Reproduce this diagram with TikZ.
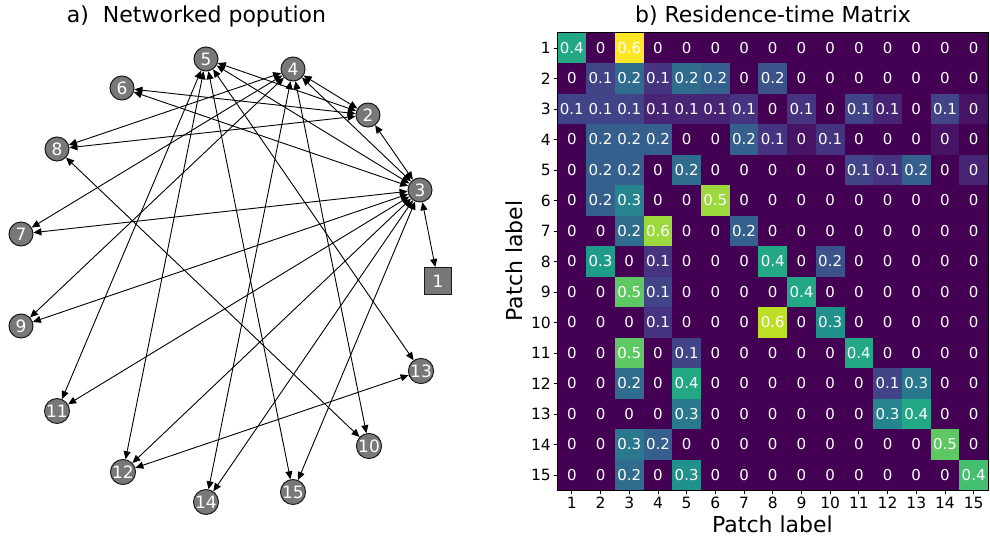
\documentclass[tikz,border=0pt]{standalone}
\usepackage{fontspec}
\setmainfont{DejaVu Sans}
\usetikzlibrary{arrows.meta}
\definecolor{v00}{HTML}{440154}
\definecolor{v05}{HTML}{471365}
\definecolor{v10}{HTML}{482475}
\definecolor{v15}{HTML}{463480}
\definecolor{v20}{HTML}{414487}
\definecolor{v25}{HTML}{3B528B}
\definecolor{v30}{HTML}{355F8D}
\definecolor{v35}{HTML}{2F6C8E}
\definecolor{v40}{HTML}{2A788E}
\definecolor{v45}{HTML}{25848E}
\definecolor{v50}{HTML}{21918C}
\definecolor{v55}{HTML}{1E9C89}
\definecolor{v60}{HTML}{22A884}
\definecolor{v65}{HTML}{2FB47C}
\definecolor{v70}{HTML}{44BF70}
\definecolor{v75}{HTML}{5EC962}
\definecolor{v80}{HTML}{7AD151}
\definecolor{v85}{HTML}{9BD93C}
\definecolor{v90}{HTML}{BDDF26}
\definecolor{v100}{HTML}{FDE725}
\definecolor{nodegray}{HTML}{787878}
\definecolor{nodeedge}{HTML}{1A1A1A}
\newcommand{\heatrow}[2]{%
  \foreach \t/\l [count=\c] in {#2}{%
    \fill[fill=v\l] ({557.5+28.7*(\c-1)},{32.7+30.5*(#1-1)}) rectangle ({557.5+28.7*\c},{32.7+30.5*#1});
    \node[cellnum] (m-#1-\c) at ({557.5+28.7*(\c-0.5)},{32.7+30.5*(#1-0.5)}) {\t};
  }}
\begin{document}
\begin{tikzpicture}[x=1pt,y=-1pt,
  pnode/.style={circle,fill=nodegray,draw=nodeedge,line width=1pt,minimum size=24pt,inner sep=0pt,text=white,font=\fontsize{17}{17}\selectfont},
  snode/.style={rectangle,fill=nodegray,draw=nodeedge,line width=1pt,minimum size=27pt,inner sep=0pt,text=white,font=\fontsize{17}{17}\selectfont},
  link/.style={{Triangle[length=8pt,width=7pt]}-{Triangle[length=8pt,width=7pt]},line width=0.9pt,black},
  cellnum/.style={text=white,font=\fontsize{15}{15}\selectfont,inner sep=0pt},
  ticklab/.style={font=\fontsize{15.5}{15.5}\selectfont,inner sep=0pt},
  titlelab/.style={font=\fontsize{22}{22}\selectfont,inner sep=0pt},
  tickmark/.style={line width=0.8pt,black}]
\useasboundingbox (0,0) rectangle (990,540);

% ---------- a) network ----------
\node[titlelab] (ta) at (196.5,16) {a)~ Networked popution};
\node[snode] (n1) at (438,281) {1};
\node[pnode] (n2) at (368,115) {2};
\node[pnode] (n3) at (420,190) {3};
\node[pnode] (n4) at (293,69) {4};
\node[pnode] (n5) at (206,59) {5};
\node[pnode] (n6) at (122,88) {6};
\node[pnode] (n7) at (21,234) {7};
\node[pnode] (n8) at (57,149) {8};
\node[pnode] (n9) at (21,326) {9};
\node[pnode] (n10) at (369,446) {10};
\node[pnode] (n11) at (57,411) {11};
\node[pnode] (n12) at (123,472) {12};
\node[pnode] (n13) at (421,371) {13};
\node[pnode] (n14) at (206,502) {14};
\node[pnode] (n15) at (293,492) {15};
\foreach \a/\b in {1/3,2/3,2/4,2/5,2/6,2/8,3/4,3/5,3/6,3/7,3/9,3/11,3/12,3/14,3/15,
                   4/7,4/8,4/9,4/10,4/14,5/11,5/12,5/13,5/15,8/10,12/13}
  \draw[link] (n\a) -- (n\b);

% ---------- b) matrix ----------
\node[titlelab] (tb) at (773,16) {b) Residence-time Matrix};
\heatrow{1}{0.4/60,0/00,0.6/100,0/00,0/00,0/00,0/00,0/00,0/00,0/00,0/00,0/00,0/00,0/00,0/00}
\heatrow{2}{0/00,0.1/20,0.2/35,0.1/15,0.2/35,0.2/30,0/00,0.2/25,0/00,0/00,0/00,0/00,0/00,0/00,0/00}
\heatrow{3}{0.1/20,0.1/20,0.1/20,0.1/10,0.1/10,0.1/10,0.1/15,0/00,0.1/15,0/00,0.1/20,0.1/10,0/00,0.1/20,0/05}
\heatrow{4}{0/00,0.2/30,0.2/30,0.2/30,0/00,0/00,0.2/30,0.1/15,0/05,0.1/15,0/00,0/00,0/00,0/05,0/00}
\heatrow{5}{0/00,0.2/30,0.2/30,0/00,0.2/35,0/00,0/00,0/00,0/00,0/00,0.1/20,0.1/15,0.2/30,0/00,0/10}
\heatrow{6}{0/00,0.2/30,0.3/45,0/00,0/00,0.5/85,0/00,0/00,0/00,0/00,0/00,0/00,0/00,0/00,0/00}
\heatrow{7}{0/00,0/00,0.2/35,0.6/85,0/00,0/00,0.2/30,0/00,0/00,0/00,0/00,0/00,0/00,0/00,0/00}
\heatrow{8}{0/00,0.3/55,0/00,0.1/15,0/00,0/00,0/00,0.4/60,0/00,0.2/25,0/00,0/00,0/00,0/00,0/00}
\heatrow{9}{0/00,0/00,0.5/75,0.1/20,0/00,0/00,0/00,0/00,0.4/60,0/00,0/00,0/00,0/00,0/00,0/00}
\heatrow{10}{0/00,0/00,0/00,0.1/15,0/00,0/00,0/00,0.6/90,0/00,0.3/50,0/00,0/00,0/00,0/00,0/00}
\heatrow{11}{0/00,0/00,0.5/75,0/00,0.1/20,0/00,0/00,0/00,0/00,0/00,0.4/60,0/00,0/00,0/00,0/00}
\heatrow{12}{0/00,0/00,0.2/35,0/00,0.4/60,0/00,0/00,0/00,0/00,0/00,0/00,0.1/20,0.3/40,0/00,0/00}
\heatrow{13}{0/00,0/00,0/00,0/00,0.3/40,0/00,0/00,0/00,0/00,0/00,0/00,0.3/45,0.4/60,0/00,0/00}
\heatrow{14}{0/00,0/00,0.3/40,0.2/30,0/00,0/00,0/00,0/00,0/00,0/00,0/00,0/00,0/00,0.5/75,0/00}
\heatrow{15}{0/00,0/00,0.2/35,0/00,0.3/50,0/00,0/00,0/00,0/00,0/00,0/00,0/00,0/00,0/00,0.4/70}
\draw[line width=0.8pt,black] (557.5,32.7) rectangle (988,490.2);
\foreach \k in {1,...,15}{
  \draw[tickmark] (554,{32.7+30.5*(\k-0.5)}) -- (557.5,{32.7+30.5*(\k-0.5)});
  \node[ticklab,anchor=east] (yl\k) at (551,{32.7+30.5*(\k-0.5)}) {\k};
  \draw[tickmark] ({557.5+28.7*(\k-0.5)},490.2) -- ({557.5+28.7*(\k-0.5)},493.7);
  \node[ticklab,anchor=north] (xl\k) at ({557.5+28.7*(\k-0.5)},496.5) {\k};
}
\node[titlelab] (xlab) at (772.5,524) {Patch label};
\node[titlelab,rotate=90] (ylab) at (514,261) {Patch label};
\end{tikzpicture}
\end{document}
